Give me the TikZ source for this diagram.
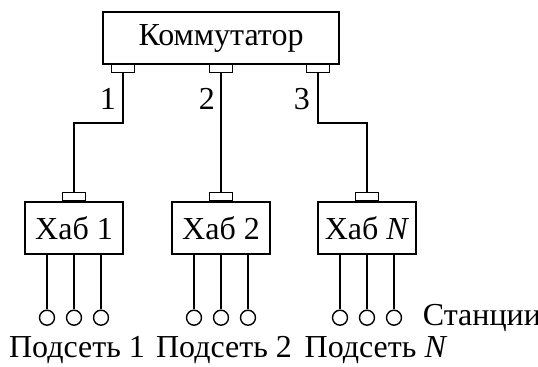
\documentclass[tikz,border=0pt]{standalone}
\usepackage{fontspec}
\setmainfont{Liberation Serif}
\usetikzlibrary{positioning}

\begin{document}
\begin{tikzpicture}[
    x=0.5pt, y=-0.5pt,
    line width=0.7pt,
    box/.style={draw, minimum width=#1, minimum height=26pt, inner sep=0pt, font=\fontsize{16}{19}\selectfont},
    box/.default=49pt,
    port/.style={draw, minimum width=11.5pt, minimum height=4pt, inner sep=0pt},
    station/.style={draw, circle, minimum size=7.5pt, inner sep=0pt},
    lbl/.style={font=\fontsize{16}{19}\selectfont, inner sep=0pt},
]

\useasboundingbox (0,0) rectangle (538,367);

% Switch and its ports
\node[box=118pt] (sw) at (221,38) {Коммутатор};
\foreach \p/\x in {1/123, 2/221, 3/318} {
    \node[port, anchor=north] (sp\p) at (\x,64) {};
}

% Hubs
\node[box] (hub1) at (74,228) {Хаб 1};
\node[box] (hub2) at (221,228) {Хаб 2};
\node[box] (hub3) at (367,228) {Хаб \textit{N}};
\foreach \h in {1,2,3} {
    \node[port, above=0pt of hub\h] (hp\h) {};
}

% Links switch -> hubs
\coordinate (bend) at (0,123);
\draw (sp1.south) -- (sp1.south |- bend) -| (hp1.north);
\draw (sp2.south) -- (hp2.north);
\draw (sp3.south) -- (sp3.south |- bend) -| (hp3.north);

\node[lbl] (n1) at (108,99) {1};
\node[lbl] (n2) at (207,99) {2};
\node[lbl] (n3) at (302,99) {3};

% Stations
\foreach \h in {1,2,3} {
    \foreach \s/\dx in {1/-27, 2/0, 3/27} {
        \path (hub\h.south) ++(\dx,63) node[station] (st\h\s) {};
        \draw (hub\h.south -| st\h\s) -- (st\h\s.north);
    }
}
\node[lbl, right=10pt of st33] (stlbl) {Станции};

% Subnets
\node[lbl, anchor=base] (sub1) at (77,358) {Подсеть 1};
\node[lbl, anchor=base] (sub2) at (224,358) {Подсеть 2};
\node[lbl, anchor=base] (sub3) at (376,358) {Подсеть \textit{N}};

\end{tikzpicture}
\end{document}
